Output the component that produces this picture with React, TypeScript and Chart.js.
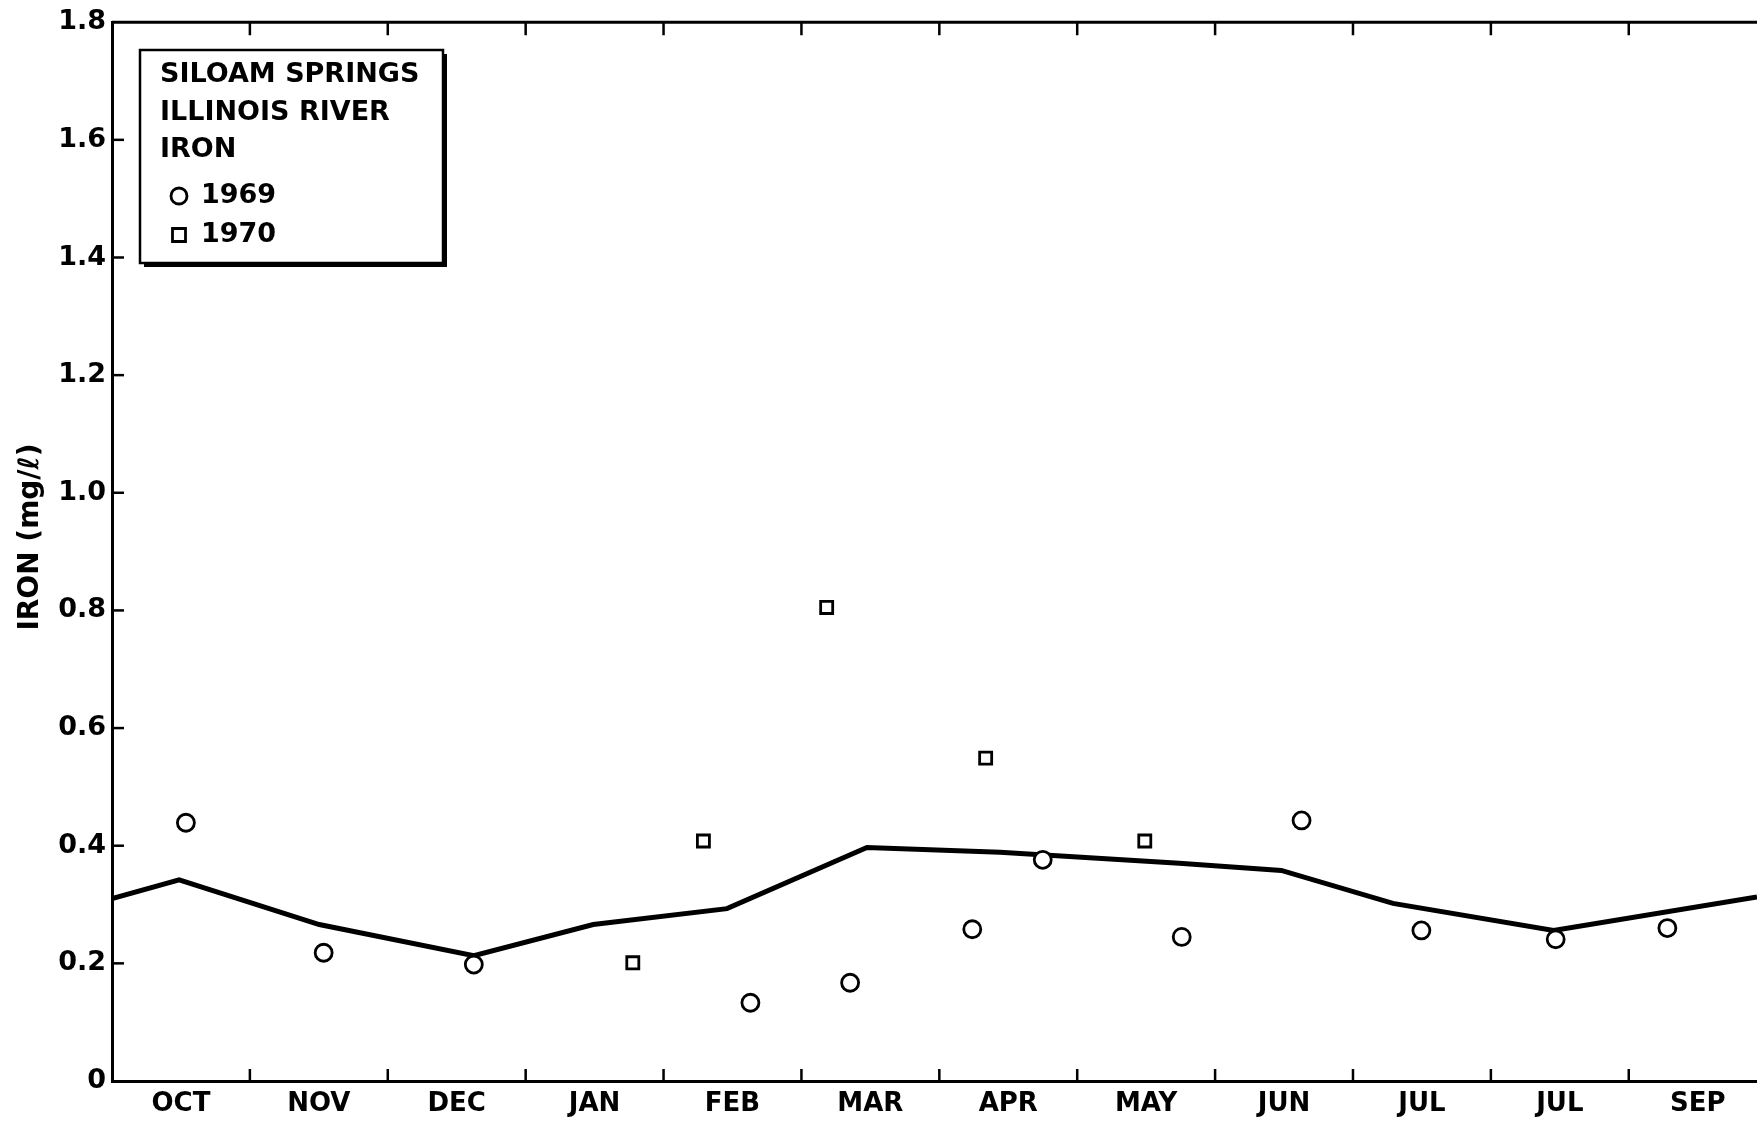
import { useEffect, useRef } from "react";
import { Chart, registerables } from "chart.js";
Chart.register(...registerables);

const monthLabels = ["OCT", "NOV", "DEC", "JAN", "FEB", "MAR", "APR", "MAY", "JUN", "JUL", "JUL", "SEP"];
const monthCenters = [0.5, 1.5, 2.5, 3.5, 4.5, 5.5, 6.5, 7.5, 8.5, 9.5, 10.5, 11.5];
const monthBounds = [1, 2, 3, 4, 5, 6, 7, 8, 9, 10, 11];
const yTicks = [0, 0.2, 0.4, 0.6, 0.8, 1.0, 1.2, 1.4, 1.6, 1.8];

const x1969 = [0.536, 1.535, 2.624, 4.63, 5.353, 6.239, 6.75, 7.758, 8.627, 9.496, 10.47, 11.28];
const y1969 = [0.439, 0.218, 0.198, 0.133, 0.167, 0.258, 0.376, 0.245, 0.443, 0.256, 0.241, 0.26];
const x1970 = [3.777, 4.289, 5.183, 6.336, 7.49];
const y1970 = [0.201, 0.408, 0.805, 0.549, 0.408];
const xMean = [0, 0.487, 1.503, 2.624, 3.49, 4.46, 5.475, 6.44, 7.74, 8.48, 9.29, 10.455, 11.93];
const yMean = [0.31, 0.342, 0.266, 0.213, 0.266, 0.293, 0.397, 0.389, 0.37, 0.358, 0.302, 0.256, 0.313];

const legendTitle = ["SILOAM SPRINGS", "ILLINOIS RIVER", "IRON"];
const seriesNames = ["1969", "1970"];
const yAxisTitle = "IRON (mg/ℓ)";

const FONT = "'DejaVu Sans', sans-serif";

const framePlugin = {
  id: "frame",
  afterDraw(chart: any) {
    const ctx = chart.ctx;
    const { left, right, top, bottom } = chart.chartArea;
    const xs = chart.scales.x;
    const ys = chart.scales.y;
    ctx.save();
    ctx.strokeStyle = "#000";
    ctx.lineCap = "butt";
    // top border
    ctx.lineWidth = 3;
    ctx.beginPath();
    ctx.moveTo(left, top);
    ctx.lineTo(right, top);
    ctx.stroke();
    // inward ticks
    ctx.lineWidth = 2.5;
    monthBounds.forEach((m) => {
      const px = xs.getPixelForValue(m);
      ctx.beginPath();
      ctx.moveTo(px, bottom);
      ctx.lineTo(px, bottom - 12);
      ctx.moveTo(px, top);
      ctx.lineTo(px, top + 13);
      ctx.stroke();
    });
    yTicks.forEach((v) => {
      if (v === 0 || v === 1.8) return;
      const py = ys.getPixelForValue(v);
      ctx.beginPath();
      ctx.moveTo(left, py);
      ctx.lineTo(left + 12, py);
      ctx.stroke();
    });
    // y axis title
    ctx.save();
    ctx.translate(31, 537);
    ctx.rotate(-Math.PI / 2);
    ctx.fillStyle = "#000";
    ctx.font = `bold 28px ${FONT}`;
    ctx.textAlign = "center";
    ctx.textBaseline = "middle";
    ctx.fillText(yAxisTitle, 0, 0);
    ctx.restore();
    // legend box
    const bx = 140, by = 50, bw = 303, bh = 213;
    ctx.fillStyle = "#fff";
    ctx.fillRect(bx, by, bw, bh);
    ctx.fillStyle = "#000";
    ctx.fillRect(bx + 4, by + bh, bw, 4);
    ctx.fillRect(bx + bw, by + 4, 4, bh);
    ctx.lineWidth = 2.5;
    ctx.strokeRect(bx, by, bw, bh);
    ctx.fillStyle = "#000";
    ctx.font = `bold 27px ${FONT}`;
    ctx.textBaseline = "middle";
    ctx.textAlign = "left";
    const lineY = [75, 113, 150];
    legendTitle.forEach((t, i) => ctx.fillText(t, 160, lineY[i]));
    const itemY = [196, 235];
    const dsets = [chart.data.datasets[0], chart.data.datasets[1]];
    seriesNames.forEach((n, i) => {
      const d = dsets[i];
      ctx.lineWidth = 2.8;
      ctx.strokeStyle = "#000";
      ctx.fillStyle = "#fff";
      ctx.beginPath();
      if (d.pointStyle === "circle") {
        ctx.arc(179, itemY[i], 8, 0, Math.PI * 2);
      } else {
        ctx.rect(172.5, itemY[i] - 6.5, 13, 13);
      }
      ctx.fill();
      ctx.stroke();
      ctx.fillStyle = "#000";
      ctx.fillText(n, 201, itemY[i]);
    });
    ctx.restore();
  },
};

export default function App() {
  const ref = useRef<HTMLCanvasElement>(null);
  useEffect(() => {
    const canvas = ref.current!;
    const chart = new Chart(canvas, {
      type: "scatter",
      data: {
        datasets: [
          {
            label: seriesNames[0],
            data: x1969.map((x, i) => ({ x, y: y1969[i] })),
            pointStyle: "circle",
            pointRadius: 8.5,
            pointBorderWidth: 2.8,
            pointBackgroundColor: "#fff",
            pointBorderColor: "#000",
            order: 0,
          } as any,
          {
            label: seriesNames[1],
            data: x1970.map((x, i) => ({ x, y: y1970[i] })),
            pointStyle: "rect",
            pointRadius: 8.5,
            pointBorderWidth: 2.8,
            pointBackgroundColor: "#fff",
            pointBorderColor: "#000",
            order: 0,
          } as any,
          {
            type: "line",
            label: "mean",
            data: xMean.map((x, i) => ({ x, y: yMean[i] })),
            showLine: true,
            borderColor: "#000",
            borderWidth: 5,
            pointRadius: 0,
            tension: 0,
            fill: false,
            order: 1,
          } as any,
        ],
      },
      options: {
        responsive: false,
        animation: false,
        events: [],
        layout: { autoPadding: false, padding: { top: 19, right: 0, left: 0, bottom: 0 } },
        plugins: { legend: { display: false }, tooltip: { enabled: false }, title: { display: false } },
        scales: {
          x: {
            type: "linear",
            min: 0,
            max: 11.93,
            afterBuildTicks: (s: any) => {
              s.ticks = monthCenters.map((v) => ({ value: v }));
            },
            afterFit: (s: any) => {
              s.height = 41;
            },
            ticks: {
              autoSkip: false,
              maxRotation: 0,
              padding: 8,
              color: "#000",
              font: { family: FONT, size: 26, weight: "bold" },
              callback: (_v: any, i: number) => monthLabels[i],
            },
            grid: { display: false, drawTicks: false },
            border: { display: true, color: "#000", width: 3 },
          },
          y: {
            type: "linear",
            min: 0,
            max: 1.8,
            afterBuildTicks: (s: any) => {
              s.ticks = yTicks.map((v) => ({ value: v }));
            },
            afterFit: (s: any) => {
              s.width = 112;
            },
            ticks: {
              padding: 6,
              color: "#000",
              font: { family: FONT, size: 27, weight: "bold" },
              callback: (v: any) => (v === 0 ? "0" : Number(v).toFixed(1)),
            },
            grid: { display: false, drawTicks: false },
            border: { display: true, color: "#000", width: 3 },
          },
        },
      },
      plugins: [framePlugin],
    });
    return () => chart.destroy();
  }, []);
  return (
    <div style={{ position: "fixed", left: 0, top: 0, width: 1757, height: 1122, background: "#fff" }}>
      <canvas ref={ref} width={1757} height={1122} style={{ display: "block" }} />
    </div>
  );
}
